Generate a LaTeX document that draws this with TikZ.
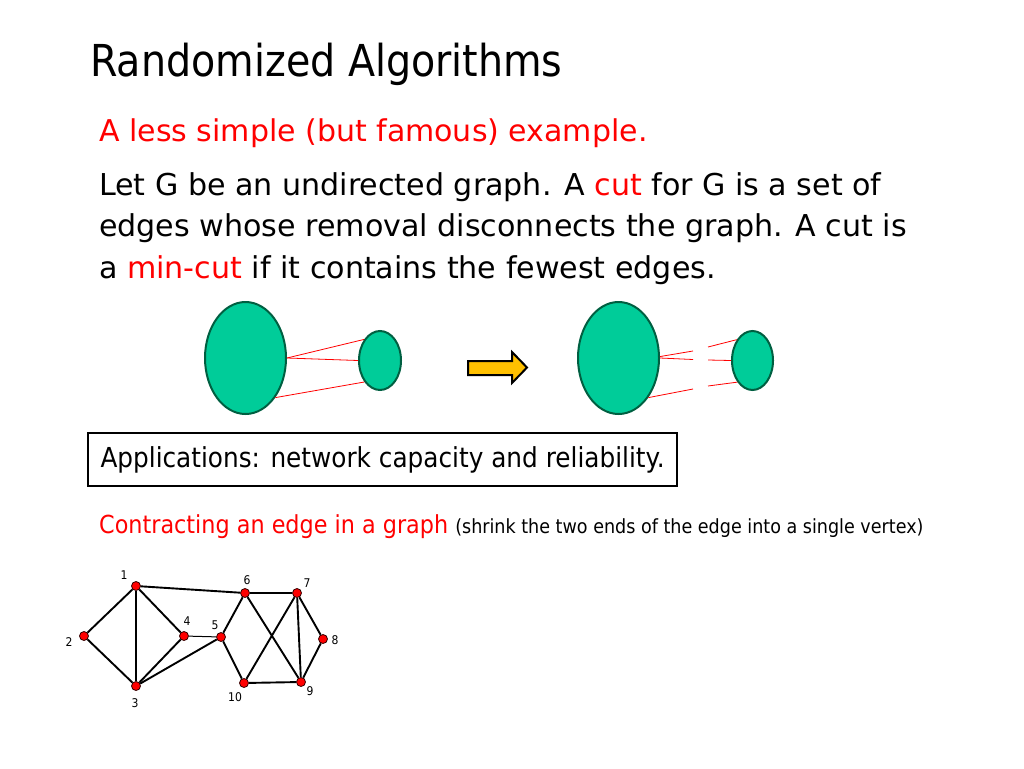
\documentclass[tikz,border=0pt]{standalone}
\usepackage{fontspec}
\setmainfont{DejaVu Sans}
\newfontfamily\narrowf{DejaVu Sans}[FakeStretch=0.9]
\usetikzlibrary{shapes.geometric}
\definecolor{cutred}{RGB}{255,0,0}
\definecolor{blobfill}{RGB}{0,204,153}
\definecolor{blobline}{RGB}{0,95,65}
\definecolor{arrowfill}{RGB}{255,192,0}
\newcommand{\fsz}[1]{\fontsize{#1}{#1}\selectfont}
\begin{document}
\begin{tikzpicture}[x=1pt,y=-1pt,
  txt/.style={anchor=base west, inner sep=0pt},
  blob/.style={ellipse, draw=blobline, fill=blobfill, line width=2pt, inner sep=0pt},
  cutline/.style={draw=cutred, line width=0.8pt},
  vtx/.style={circle, fill=red, draw=black!80!red, line width=0.8pt, inner sep=0pt, minimum size=9pt},
  edge/.style={line width=1.9pt, black},
  vlab/.style={inner sep=0pt, font=\narrowf\fsz{12}}]
\useasboundingbox (0,0) rectangle (1024,768);
% texts
\node[txt] (title) at (90,77) {\narrowf\fsz{44}Randomized Algorithms};
\node[txt, text=cutred] (sub) at (99,141) {\fsz{30}A less simple (but famous) example.};
\node[txt] (l1) at (99,195) {\fsz{30.1}Let G be an undirected graph. A \textcolor{cutred}{cut} for G is a set of};
\node[txt] (l2) at (99,236.5) {\fsz{30.1}edges whose removal disconnects the graph. A cut is};
\node[txt] (l3) at (99,278) {\fsz{30.1}a \textcolor{cutred}{min-cut} if it contains the fewest edges.};
% ellipses left
\node[blob, minimum width=81pt, minimum height=112pt] (bigL) at (245.5,358) {};
\node[blob, minimum width=42pt, minimum height=59pt] (smallL) at (380,360.5) {};
\draw[cutline] (bigL.0) -- (smallL.127);
\draw[cutline] (bigL.0) -- (smallL.180);
\draw[cutline] (bigL.-53) -- (smallL.-126);
% arrow
\draw[line width=2pt, fill=arrowfill, line join=miter]
  (468,361) -- (512,361) -- (512,352) -- (527,367.5) -- (512,383) -- (512,375) -- (468,375) -- cycle;
% ellipses right
\node[blob, minimum width=81pt, minimum height=112pt] (bigR) at (618.5,358) {};
\node[blob, minimum width=41pt, minimum height=59pt] (smallR) at (752.5,360.5) {};
\coordinate (a1) at (693,351);
\coordinate (a2) at (693,359.5);
\coordinate (a3) at (693,389);
\coordinate (b1) at (708,347);
\coordinate (b2) at (708,360);
\coordinate (b3) at (708,386);
\draw[cutline] (bigR.2) -- (a1);
\draw[cutline] (bigR.0) -- (a2);
\draw[cutline] (bigR.-53) -- (a3);
\draw[cutline] (b1) -- (smallR.127);
\draw[cutline] (b2) -- (smallR.180);
\draw[cutline] (b3) -- (smallR.-125);
% box
\node[draw, line width=1.5pt, minimum width=589pt, minimum height=53pt, inner sep=0pt] (app) at (382.5,459.5)
  {\narrowf\fsz{27.5}Applications: network capacity and reliability.};
% contracting
\node[txt] (con) at (99,533) {\narrowf\fsz{24.8}\textcolor{cutred}{Contracting an edge in a graph} \fsz{19.5}(shrink the two ends of the edge into a single vertex)};
% graph
\node[vtx] (v1) at (136,586) {};
\node[vtx] (v2) at (84,636) {};
\node[vtx] (v3) at (136,686) {};
\node[vtx] (v4) at (184,636) {};
\node[vtx] (v5) at (221,637) {};
\node[vtx] (v6) at (245,593) {};
\node[vtx] (v7) at (297,593) {};
\node[vtx] (v8) at (323,639) {};
\node[vtx] (v9) at (301,682) {};
\node[vtx] (v10) at (244,683) {};
\draw[edge] (v1) -- (v2);
\draw[edge] (v1) -- (v3);
\draw[edge] (v1) -- (v4);
\draw[edge] (v2) -- (v3);
\draw[edge] (v3) -- (v4);
\draw[edge] (v3) -- (v5);
\draw[line width=1pt] (v4) -- (v5);
\draw[edge] (v1) -- (v6);
\draw[edge] (v5) -- (v6);
\draw[edge] (v5) -- (v10);
\draw[edge] (v6) -- (v7);
\draw[edge] (v6) -- (v9);
\draw[edge] (v7) -- (v10);
\draw[edge] (v7) -- (v9);
\draw[edge] (v7) -- (v8);
\draw[edge] (v8) -- (v9);
\draw[edge] (v10) -- (v9);
\node[vlab] (n1) at (124,575) {1};
\node[vlab] (n2) at (69,642) {2};
\node[vlab] (n3) at (135,703) {3};
\node[vlab] (n4) at (187,621) {4};
\node[vlab] (n5) at (215,625) {5};
\node[vlab] (n6) at (247,580) {6};
\node[vlab] (n7) at (307,583) {7};
\node[vlab] (n8) at (335,640) {8};
\node[vlab] (n9) at (310,691) {9};
\node[vlab] (n10) at (235,697) {10};
\end{tikzpicture}
\end{document}
